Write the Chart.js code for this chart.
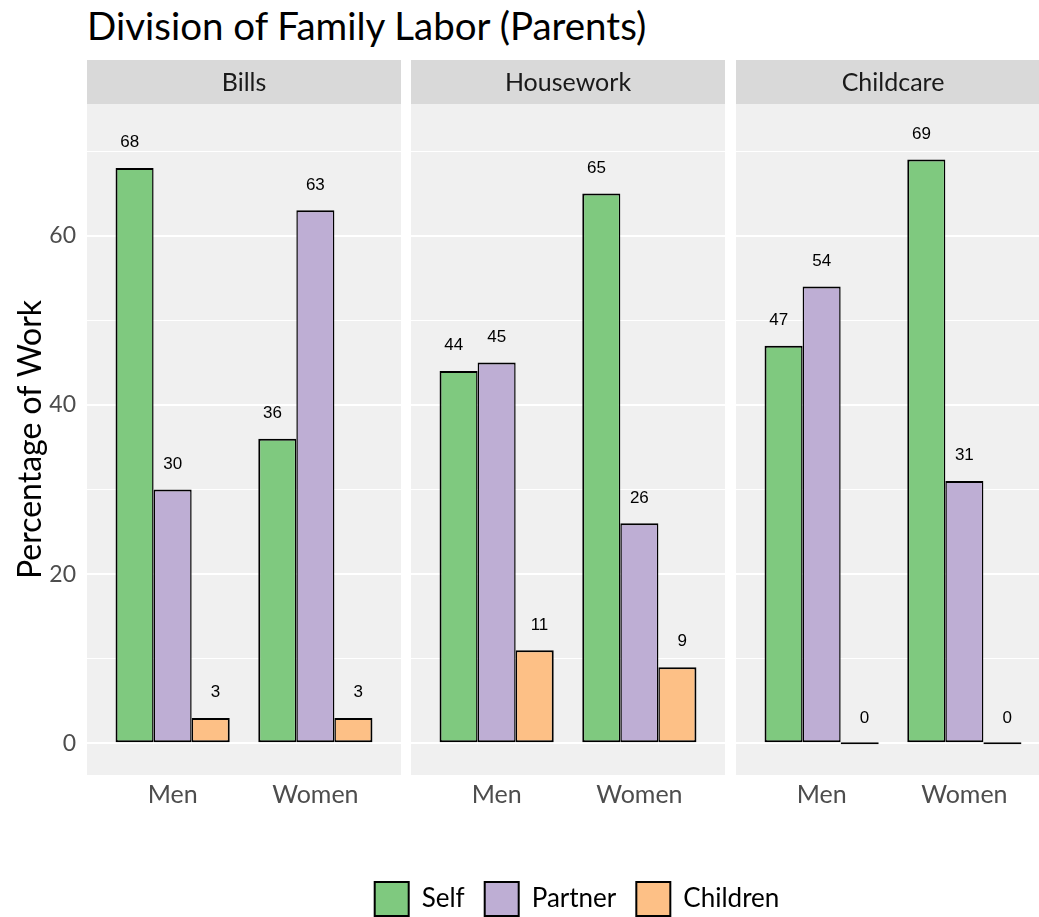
<!DOCTYPE html>
<html>
<head>
<meta charset="utf-8">
<script src="https://cdn.jsdelivr.net/npm/chart.js@4.4.1/dist/chart.umd.min.js"></script>
<style>
  html, body { margin: 0; padding: 0; background: #ffffff; overflow: hidden; width: 1039px; height: 917px; }
  .box { position: absolute; }
  #title { position: absolute; left: 87px; top: 1px; font-family: Lato, sans-serif; font-size: 38.5px; color: #000; white-space: nowrap; line-height: 48px; }
</style>
</head>
<body>
<div id="title">Division of Family Labor (Parents)</div>
<div class="box" style="left:0px;top:60px;width:401px;height:760px;"><canvas id="p0"></canvas></div>
<div class="box" style="left:411px;top:60px;width:314px;height:760px;"><canvas id="p1"></canvas></div>
<div class="box" style="left:736px;top:60px;width:314px;height:760px;"><canvas id="p2"></canvas></div>
<div class="box" style="left:177px;top:862px;width:800px;height:110px;"><canvas id="leg"></canvas></div>
<script>
// ---- data ----
const panels = ['Bills', 'Housework', 'Childcare'];
const groups = ['Men', 'Women'];
const series = ['Self', 'Partner', 'Children'];
const selfPct = [[68, 36], [44, 65], [47, 69]];
const partnerPct = [[30, 63], [45, 26], [54, 31]];
const childrenPct = [[3, 3], [11, 9], [0, 0]];
const yTickValues = [0, 10, 20, 30, 40, 50, 60, 70];
const yLabelled = [0, 20, 40, 60];

// ---- style ----
const colors = ['#7FC97F', '#BEAED4', '#FDC086'];
const seriesData = [selfPct, partnerPct, childrenPct];
const borderWidths = [
  {left: 2, right: 1.5, top: 2, bottom: 2},
  {left: 1.5, right: 1.5, top: 2, bottom: 2},
  {left: 1.5, right: 2, top: 2, bottom: 2}
];
const LABEL_NUDGE = 3;
const FONT = 'Lato, sans-serif';

const panelPlugin = {
  id: 'panelDecor',
  beforeDraw(chart, args, opts) {
    const {ctx, chartArea} = chart;
    ctx.save();
    ctx.fillStyle = '#F0F0F0';
    ctx.fillRect(chartArea.left, chartArea.top, chartArea.right - chartArea.left, chartArea.bottom - chartArea.top);
    ctx.fillStyle = '#D9D9D9';
    ctx.fillRect(chartArea.left, chartArea.top - 44, chartArea.right - chartArea.left, 44);
    ctx.fillStyle = '#1A1A1A';
    ctx.font = '25px ' + FONT;
    ctx.textAlign = 'center';
    ctx.textBaseline = 'middle';
    ctx.fillText(opts.strip, (chartArea.left + chartArea.right) / 2, chartArea.top - 21);
    ctx.restore();
  },
  afterDatasetsDraw(chart) {
    const {ctx} = chart;
    const xs = chart.scales.x, ys = chart.scales.y;
    const unit = xs.getPixelForValue(2) - xs.getPixelForValue(1);
    ctx.save();
    ctx.fillStyle = '#000';
    ctx.font = '17px "Liberation Sans", Arial, sans-serif';
    ctx.textAlign = 'center';
    ctx.textBaseline = 'middle';
    chart.data.datasets.forEach((ds, di) => {
      ds.data.forEach((pt) => {
        const x = xs.getPixelForValue(pt.x) + (di - 1) * 0.3 * unit;
        const y = ys.getPixelForValue(pt.y + LABEL_NUDGE);
        ctx.fillText(String(pt.y), x, y);
      });
    });
    ctx.restore();
  }
};

function makePanel(p) {
  const first = p === 0;
  const datasets = series.map((name, si) => ({
    label: name,
    data: seriesData[si][p].map((v, gi) => ({x: gi + 1, y: v})),
    backgroundColor: colors[si],
    borderColor: '#000000',
    borderWidth: borderWidths[si],
    borderSkipped: false,
    minBarLength: 2,
    categoryPercentage: 0.8,
    barPercentage: 1.0
  }));
  new Chart(document.getElementById('p' + p), {
    type: 'bar',
    data: {datasets},
    plugins: [panelPlugin],
    options: {
      responsive: true,
      maintainAspectRatio: false,
      animation: false,
      layout: {padding: {top: 44, left: 0, right: 0, bottom: 0}},
      plugins: {
        legend: {display: false},
        tooltip: {enabled: false},
        panelDecor: {strip: panels[p]}
      },
      scales: {
        x: {
          type: 'linear',
          min: 0.4, max: 2.6,
          offset: false,
          grid: {display: false, drawTicks: false, tickLength: 0},
          border: {display: false},
          afterBuildTicks: (s) => { s.ticks = groups.map((g, i) => ({value: i + 1})); },
          afterFit: (s) => { s.height = 45; },
          ticks: {
            callback: (v) => groups[v - 1],
            font: {family: FONT, size: 25},
            color: '#4D4D4D',
            padding: 5,
            maxRotation: 0,
            autoSkip: false
          }
        },
        y: {
          type: 'linear',
          min: -3.75, max: 75.57,
          grid: {
            color: '#FFFFFF',
            lineWidth: (c) => (c.tick && yLabelled.includes(c.tick.value)) ? 2 : 1,
            drawTicks: false,
            tickLength: 0
          },
          border: {display: false},
          afterBuildTicks: (s) => { s.ticks = yTickValues.map(v => ({value: v})); },
          afterFit: (s) => { s.width = first ? 87 : 0; },
          ticks: {
            display: first,
            callback: (v) => yLabelled.includes(v) ? String(v) : '',
            font: {family: FONT, size: 23},
            color: '#4D4D4D',
            padding: 11,
            autoSkip: false
          },
          title: {
            display: first,
            text: 'Percentage of Work',
            font: {family: FONT, size: 32},
            color: '#000',
            padding: {top: 11, bottom: 0}
          }
        }
      }
    }
  });
}

panels.forEach((_, p) => makePanel(p));

new Chart(document.getElementById('leg'), {
  type: 'bar',
  data: {
    datasets: series.map((name, si) => ({
      label: name, data: [], backgroundColor: colors[si], borderColor: '#000', borderWidth: 2
    }))
  },
  options: {
    responsive: true,
    maintainAspectRatio: false,
    animation: false,
    layout: {padding: 0},
    scales: {x: {display: false}, y: {display: false}},
    plugins: {
      tooltip: {enabled: false},
      legend: {
        position: 'top',
        labels: {boxWidth: 34, boxHeight: 34, font: {family: FONT, size: 26}, color: '#000', padding: 20}
      }
    }
  }
});
</script>
</body>
</html>
